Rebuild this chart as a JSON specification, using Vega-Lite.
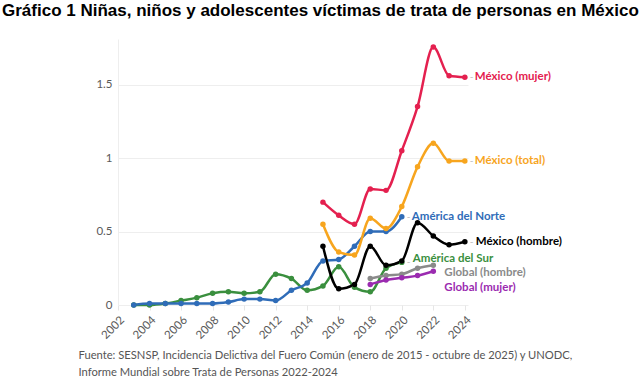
{
  "$schema": "https://vega.github.io/schema/vega-lite/v6.json",
  "autosize": "none",
  "width": 350,
  "height": 266,
  "padding": {"left": 118, "top": 39, "right": 172, "bottom": 78},
  "background": "white",
  "title": {
    "text": "Gráfico 1 Niñas, niños y adolescentes víctimas de trata de personas en México",
    "anchor": "start",
    "frame": "group",
    "dx": -116,
    "offset": 19,
    "font": "Liberation Sans",
    "fontSize": 17,
    "fontWeight": "bold",
    "color": "#000000"
  },
  "config": {
    "view": {"stroke": null},
    "font": "Lato"
  },
  "data": {
    "values": [
      {"serie": "América del Sur", "year": 2003, "value": 0.0},
      {"serie": "América del Sur", "year": 2004, "value": 0.0},
      {"serie": "América del Sur", "year": 2005, "value": 0.01},
      {"serie": "América del Sur", "year": 2006, "value": 0.03},
      {"serie": "América del Sur", "year": 2007, "value": 0.05},
      {"serie": "América del Sur", "year": 2008, "value": 0.08},
      {"serie": "América del Sur", "year": 2009, "value": 0.09},
      {"serie": "América del Sur", "year": 2010, "value": 0.08},
      {"serie": "América del Sur", "year": 2011, "value": 0.09},
      {"serie": "América del Sur", "year": 2012, "value": 0.21},
      {"serie": "América del Sur", "year": 2013, "value": 0.18},
      {"serie": "América del Sur", "year": 2014, "value": 0.10},
      {"serie": "América del Sur", "year": 2015, "value": 0.13},
      {"serie": "América del Sur", "year": 2016, "value": 0.26},
      {"serie": "América del Sur", "year": 2017, "value": 0.12},
      {"serie": "América del Sur", "year": 2018, "value": 0.09},
      {"serie": "América del Sur", "year": 2019, "value": 0.25},
      {"serie": "América del Sur", "year": 2020, "value": 0.29},
      {"serie": "América del Norte", "year": 2003, "value": 0.0},
      {"serie": "América del Norte", "year": 2004, "value": 0.01},
      {"serie": "América del Norte", "year": 2005, "value": 0.01},
      {"serie": "América del Norte", "year": 2006, "value": 0.01},
      {"serie": "América del Norte", "year": 2007, "value": 0.01},
      {"serie": "América del Norte", "year": 2008, "value": 0.01},
      {"serie": "América del Norte", "year": 2009, "value": 0.02},
      {"serie": "América del Norte", "year": 2010, "value": 0.04},
      {"serie": "América del Norte", "year": 2011, "value": 0.04},
      {"serie": "América del Norte", "year": 2012, "value": 0.03},
      {"serie": "América del Norte", "year": 2013, "value": 0.10},
      {"serie": "América del Norte", "year": 2014, "value": 0.15},
      {"serie": "América del Norte", "year": 2015, "value": 0.30},
      {"serie": "América del Norte", "year": 2016, "value": 0.31},
      {"serie": "América del Norte", "year": 2017, "value": 0.40},
      {"serie": "América del Norte", "year": 2018, "value": 0.50},
      {"serie": "América del Norte", "year": 2019, "value": 0.50},
      {"serie": "América del Norte", "year": 2020, "value": 0.60},
      {"serie": "Global (hombre)", "year": 2018, "value": 0.18},
      {"serie": "Global (hombre)", "year": 2019, "value": 0.20},
      {"serie": "Global (hombre)", "year": 2020, "value": 0.21},
      {"serie": "Global (hombre)", "year": 2021, "value": 0.25},
      {"serie": "Global (hombre)", "year": 2022, "value": 0.27},
      {"serie": "Global (mujer)", "year": 2018, "value": 0.14},
      {"serie": "Global (mujer)", "year": 2019, "value": 0.17},
      {"serie": "Global (mujer)", "year": 2020, "value": 0.185},
      {"serie": "Global (mujer)", "year": 2021, "value": 0.20},
      {"serie": "Global (mujer)", "year": 2022, "value": 0.23},
      {"serie": "México (total)", "year": 2015, "value": 0.55},
      {"serie": "México (total)", "year": 2016, "value": 0.36},
      {"serie": "México (total)", "year": 2017, "value": 0.34},
      {"serie": "México (total)", "year": 2018, "value": 0.59},
      {"serie": "México (total)", "year": 2019, "value": 0.52},
      {"serie": "México (total)", "year": 2020, "value": 0.67},
      {"serie": "México (total)", "year": 2021, "value": 0.94},
      {"serie": "México (total)", "year": 2022, "value": 1.10},
      {"serie": "México (total)", "year": 2023, "value": 0.98},
      {"serie": "México (total)", "year": 2024, "value": 0.98},
      {"serie": "México (mujer)", "year": 2015, "value": 0.70},
      {"serie": "México (mujer)", "year": 2016, "value": 0.61},
      {"serie": "México (mujer)", "year": 2017, "value": 0.55},
      {"serie": "México (mujer)", "year": 2018, "value": 0.79},
      {"serie": "México (mujer)", "year": 2019, "value": 0.78},
      {"serie": "México (mujer)", "year": 2020, "value": 1.05},
      {"serie": "México (mujer)", "year": 2021, "value": 1.35},
      {"serie": "México (mujer)", "year": 2022, "value": 1.755},
      {"serie": "México (mujer)", "year": 2023, "value": 1.56},
      {"serie": "México (mujer)", "year": 2024, "value": 1.55},
      {"serie": "México (hombre)", "year": 2015, "value": 0.40},
      {"serie": "México (hombre)", "year": 2016, "value": 0.11},
      {"serie": "México (hombre)", "year": 2017, "value": 0.14},
      {"serie": "México (hombre)", "year": 2018, "value": 0.40},
      {"serie": "México (hombre)", "year": 2019, "value": 0.27},
      {"serie": "México (hombre)", "year": 2020, "value": 0.30},
      {"serie": "México (hombre)", "year": 2021, "value": 0.56},
      {"serie": "México (hombre)", "year": 2022, "value": 0.47},
      {"serie": "México (hombre)", "year": 2023, "value": 0.41},
      {"serie": "México (hombre)", "year": 2024, "value": 0.43}
    ]
  },
  "encoding": {
    "x": {
      "field": "year",
      "type": "quantitative",
      "scale": {"domain": [2002, 2024.2], "nice": false, "zero": false},
      "axis": {
        "values": [2002, 2004, 2006, 2008, 2010, 2012, 2014, 2016, 2018, 2020, 2022, 2024],
        "format": "d",
        "labelAngle": -45,
        "labelFontSize": 11.5,
        "labelColor": "#5a5a5a",
        "labelPadding": 4,
        "domain": false,
        "grid": false,
        "ticks": true,
        "tickColor": "#e6e6e6",
        "tickSize": 5,
        "title": ["Fuente: SESNSP, Incidencia Delictiva del Fuero Común (enero de 2015 - octubre de 2025) y UNODC,", "Informe Mundial sobre Trata de Personas 2022-2024"],
        "titleAnchor": "start",
        "titleAlign": "left",
        "titleBaseline": "alphabetic",
        "titleX": -40,
        "titleY": 53,
        "titleFontSize": 11.2,
        "titleFontWeight": "normal",
        "titleColor": "#555555",
        "titleLineHeight": 17
      }
    },
    "y": {
      "field": "value",
      "type": "quantitative",
      "scale": {"domain": [0, 1.81], "nice": false},
      "axis": {
        "values": [0, 0.5, 1, 1.5],
        "format": "~g",
        "labelFontSize": 11.5,
        "labelColor": "#5a5a5a",
        "labelPadding": 6,
        "domain": true,
        "domainColor": "#eeeeee",
        "ticks": false,
        "grid": true,
        "gridColor": "#eeeeee",
        "title": null
      }
    },
    "color": {
      "field": "serie",
      "type": "nominal",
      "legend": null,
      "scale": {
        "domain": ["América del Sur", "América del Norte", "Global (hombre)", "Global (mujer)", "México (total)", "México (mujer)", "México (hombre)"],
        "range": ["#3a8f3e", "#2f6cb8", "#8a8a8a", "#9b2bb0", "#f7a51e", "#e4204f", "#000000"]
      }
    }
  },
  "layer": [
    {"mark": {"type": "line", "interpolate": "monotone", "strokeWidth": 2.5}, "encoding": {"detail": {"field": "serie"}}},
    {"mark": {"type": "circle", "size": 30, "opacity": 1}},
    {
      "transform": [{"filter": "datum.serie == 'México (mujer)' && datum.year == 2024"}],
      "mark": {"type": "text", "align": "left", "dx": 10, "dy": 0, "fontSize": 11.5, "fontWeight": "bold"},
      "encoding": {"text": {"field": "serie"}}
    },
    {
      "transform": [{"filter": "datum.serie == 'México (total)' && datum.year == 2024"}],
      "mark": {"type": "text", "align": "left", "dx": 10, "dy": 0, "fontSize": 11.5, "fontWeight": "bold"},
      "encoding": {"text": {"field": "serie"}}
    },
    {
      "transform": [{"filter": "datum.serie == 'México (hombre)' && datum.year == 2024"}],
      "mark": {"type": "text", "align": "left", "dx": 11, "dy": 0, "fontSize": 11.5, "fontWeight": "bold"},
      "encoding": {"text": {"field": "serie"}}
    },
    {
      "transform": [{"filter": "datum.serie == 'América del Norte' && datum.year == 2020"}],
      "mark": {"type": "text", "align": "left", "dx": 10, "dy": 0, "fontSize": 11.5, "fontWeight": "bold"},
      "encoding": {"text": {"field": "serie"}}
    },
    {
      "transform": [{"filter": "datum.serie == 'América del Sur' && datum.year == 2020"}],
      "mark": {"type": "text", "align": "left", "dx": 11, "dy": -3, "fontSize": 11.5, "fontWeight": "bold"},
      "encoding": {"text": {"field": "serie"}}
    },
    {
      "transform": [{"filter": "datum.serie == 'Global (hombre)' && datum.year == 2022"}],
      "mark": {"type": "text", "align": "left", "dx": 11, "dy": 8, "fontSize": 11.5, "fontWeight": "bold"},
      "encoding": {"text": {"field": "serie"}}
    },
    {
      "transform": [{"filter": "datum.serie == 'Global (mujer)' && datum.year == 2022"}],
      "mark": {"type": "text", "align": "left", "dx": 11, "dy": 17, "fontSize": 11.5, "fontWeight": "bold"},
      "encoding": {"text": {"field": "serie"}}
    },
    {
      "transform": [{"filter": "(datum.year == 2024 && indexof(datum.serie, 'México') == 0) || (datum.year == 2020 && indexof(datum.serie, 'América') == 0)"}],
      "mark": {"type": "text", "align": "left", "dx": 5, "dy": 0, "fontSize": 10, "text": "-"},
      "encoding": {"color": {"value": "#bbbbbb"}}
    }
  ]
}
